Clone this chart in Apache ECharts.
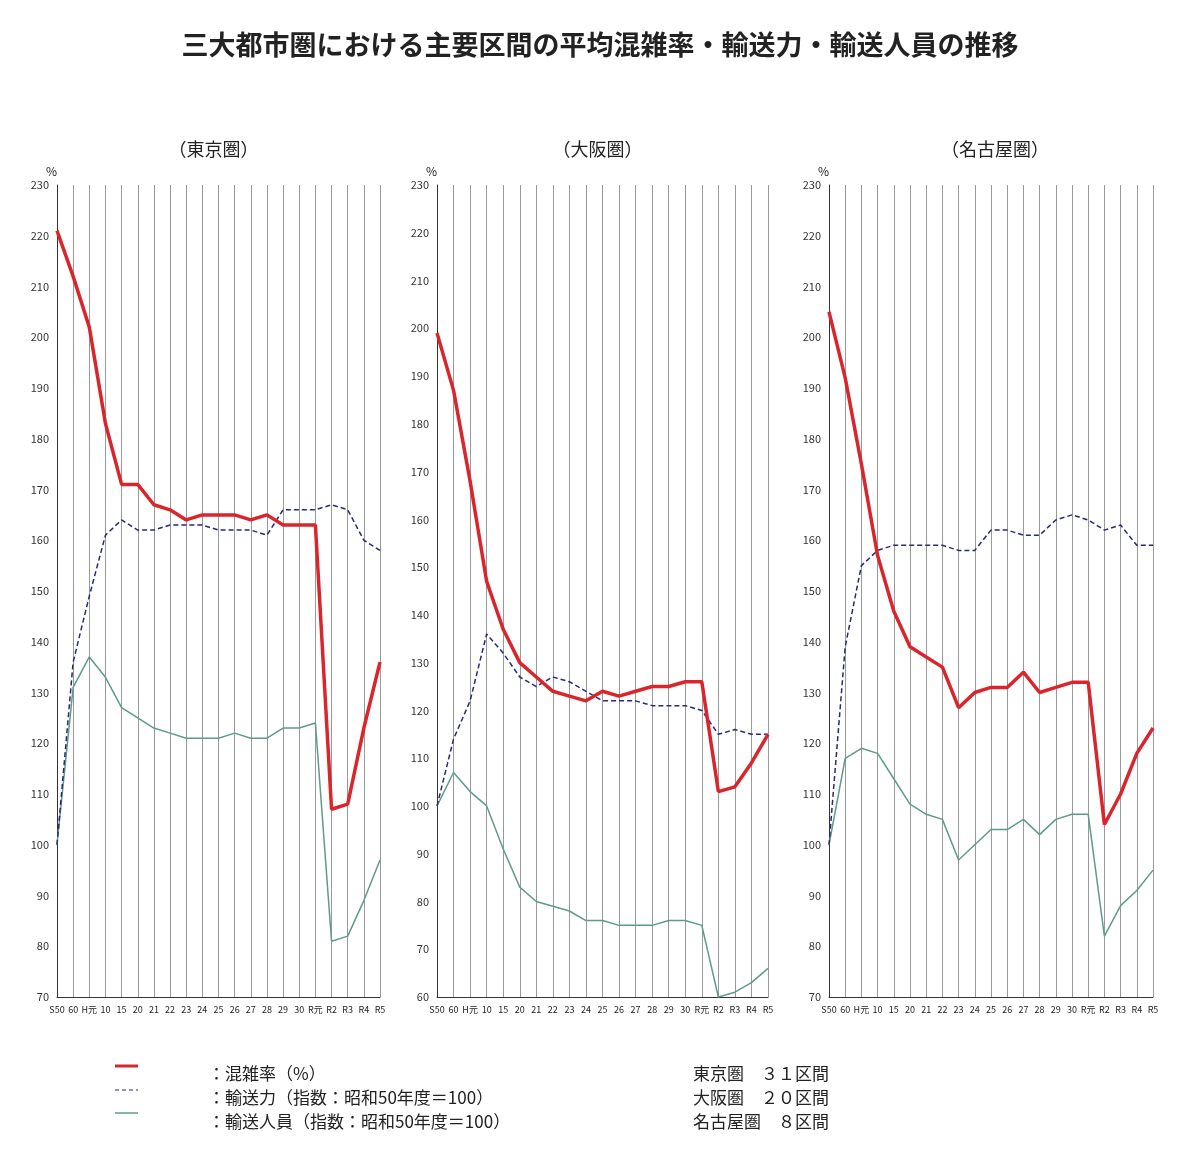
<!DOCTYPE html>
<html><head><meta charset="utf-8">
<script src="https://cdn.jsdelivr.net/npm/echarts@6/dist/echarts.min.js"></script>
<style>html,body{margin:0;background:#fff}#c{width:1200px;height:1155px}</style>
</head><body><div id="c"></div>
<script>
const categories = ['S50','60','H元','10','15','20','21','22','23','24','25','26','27','28','29','30','R元','R2','R3','R4','R5'];

const tokyoCongestion = [221,212,202,183,171,171,167,166,164,165,165,165,164,165,163,163,163,107,108,123,136];
const tokyoCapacity   = [100,136,149,161,164,162,162,163,163,163,162,162,162,161,166,166,166,167,166,160,158];
const tokyoPassengers = [100,131,137,133,127,125,123,122,121,121,121,122,121,121,123,123,124,81,82,89,97];

const osakaCongestion = [199,187,168,147,137,130,127,124,123,122,124,123,124,125,125,126,126,103,104,109,115];
const osakaCapacity   = [100,114,122,136,132,127,125,127,126,124,122,122,122,121,121,121,120,115,116,115,115];
const osakaPassengers = [100,107,103,100,91,83,80,79,78,76,76,75,75,75,76,76,75,60,61,63,66];

const nagoyaCongestion = [205,192,175,157,146,139,137,135,127,130,131,131,134,130,131,132,132,104,110,118,123];
const nagoyaCapacity   = [100,139,155,158,159,159,159,159,158,158,162,162,161,161,164,165,164,162,163,159,159];
const nagoyaPassengers = [100,117,119,118,113,108,106,105,97,100,103,103,105,102,105,106,106,82,88,91,95];

const panels = [
  {name:'（東京圏）', min:70, data:[tokyoCongestion, tokyoCapacity, tokyoPassengers], left:57, width:323},
  {name:'（大阪圏）', min:60, data:[osakaCongestion, osakaCapacity, osakaPassengers], left:437, width:331},
  {name:'（名古屋圏）', min:70, data:[nagoyaCongestion, nagoyaCapacity, nagoyaPassengers], left:829, width:324}
];
const font = '"Noto Sans CJK JP", sans-serif';
const colors = ['#d9262c', '#262a78', '#5f9a8e'];
const labelColors = ['#c8262c', '#2b2f7a', '#4f8a7e'];

const grids = [], xAxes = [], yAxes = [], series = [], titles = [];
panels.forEach((p, i) => {
  grids.push({left:p.left, width:p.width, top:185, bottom:158});
  titles.push({text:p.name, left:p.left + p.width/2 - 55, top:135, textStyle:{fontFamily:font, fontSize:18, fontWeight:'normal', color:'#222'}});
  xAxes.push({type:'category', gridIndex:i, data:categories, boundaryGap:false,
    axisLine:{lineStyle:{color:'#333'}}, axisTick:{show:false},
    axisLabel:{interval:0, fontSize:9, color:'#222', margin:8},
    splitLine:{show:true, lineStyle:{color:'#999', width:1}}});
  yAxes.push({type:'value', gridIndex:i, min:p.min, max:230, interval:10, name:'%', nameGap:8,
    nameTextStyle:{color:'#222', fontSize:12, align:'right'},
    axisLine:{show:true, lineStyle:{color:'#333'}}, axisTick:{show:false},
    axisLabel:{fontSize:11, color:'#333'}, splitLine:{show:false}});
  p.data.forEach((arr, k) => {
    const pos = ['right', 'top', 'bottom'][k];
    const offs = [[-2,-8],[4,0],[4,2]][k];
    series.push({type:'line', xAxisIndex:i, yAxisIndex:i, symbol:'circle', symbolSize:1, showSymbol:true,
      label:{show:true, position:pos, offset:offs, fontSize:12, color:labelColors[k]},
      labelLayout:{hideOverlap:false},
      data: arr.map((v, j) => j === arr.length - 1
        ? {value:v, label:{show:true, position:'top', offset:[0, k === 2 ? -6 : -6], borderColor:'#222', borderWidth:1.2,
            padding:[3,4], backgroundColor:'#fff', fontSize:13, color:labelColors[k]}}
        : {value:v, label:{show:j > 0}}),
      itemStyle:{color:colors[k], opacity:0},
      lineStyle: k === 0 ? {color:colors[0], width:3.5}
        : k === 1 ? {color:colors[1], width:1.5, type:[5,3]}
        : {color:colors[2], width:1.5},
      z: 3 - k});
  });
});

const chart = echarts.init(document.getElementById('c'));
chart.setOption({
  textStyle:{fontFamily:font},
  title:[{text:'三大都市圏における主要区間の平均混雑率・輸送力・輸送人員の推移', left:'center', top:26,
    textStyle:{fontFamily:font, fontSize:27, fontWeight:'bold', color:'#222'}}].concat(titles),
  grid:grids, xAxis:xAxes, yAxis:yAxes, series:series,
  graphic:[
    {type:'line', shape:{x1:115,y1:1066,x2:138,y2:1066}, style:{stroke:colors[0], lineWidth:3}},
    {type:'line', shape:{x1:115,y1:1090,x2:138,y2:1090}, style:{stroke:colors[1], lineWidth:1, lineDash:[4,3]}},
    {type:'line', shape:{x1:115,y1:1113,x2:138,y2:1113}, style:{stroke:colors[2], lineWidth:1.5}},
    {type:'text', left:208, top:1065, style:{text:'：混雑率（%）', font:'17px "Noto Sans CJK JP"', fill:'#222'}},
    {type:'text', left:208, top:1089, style:{text:'：輸送力（指数：昭和50年度＝100）', font:'17px "Noto Sans CJK JP"', fill:'#222'}},
    {type:'text', left:208, top:1113, style:{text:'：輸送人員（指数：昭和50年度＝100）', font:'17px "Noto Sans CJK JP"', fill:'#222'}},
    {type:'text', left:693, top:1065, style:{text:'東京圏　３１区間', font:'17px "Noto Sans CJK JP"', fill:'#222'}},
    {type:'text', left:693, top:1089, style:{text:'大阪圏　２０区間', font:'17px "Noto Sans CJK JP"', fill:'#222'}},
    {type:'text', left:693, top:1113, style:{text:'名古屋圏　８区間', font:'17px "Noto Sans CJK JP"', fill:'#222'}}
  ]
});
</script></body></html>
